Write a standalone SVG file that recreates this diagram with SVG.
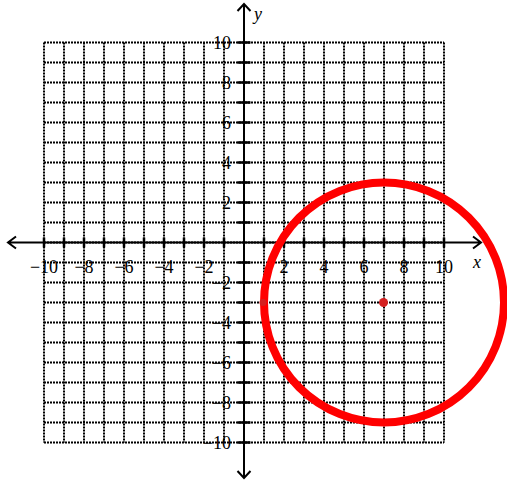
<svg xmlns="http://www.w3.org/2000/svg" width="507" height="480" viewBox="0 0 507 480">
<style>
.grid line{stroke:#000;stroke-width:2;stroke-dasharray:2 1}
.axis{stroke:#000;stroke-width:2;fill:none}
.tick{stroke:#000;stroke-width:2.5}
text{font-family:"Liberation Serif","Times New Roman",serif;font-size:18px;fill:#000}
.xl{text-anchor:middle}
.yl{text-anchor:end}
.var{font-style:italic}
</style>
<rect width="507" height="480" fill="#fff"/>
<g id="grid" class="grid">
<line x1="44" y1="42.5" x2="44" y2="442.5"/><line x1="64" y1="42.5" x2="64" y2="442.5"/><line x1="84" y1="42.5" x2="84" y2="442.5"/><line x1="104" y1="42.5" x2="104" y2="442.5"/><line x1="124" y1="42.5" x2="124" y2="442.5"/><line x1="144" y1="42.5" x2="144" y2="442.5"/><line x1="164" y1="42.5" x2="164" y2="442.5"/><line x1="184" y1="42.5" x2="184" y2="442.5"/><line x1="204" y1="42.5" x2="204" y2="442.5"/><line x1="224" y1="42.5" x2="224" y2="442.5"/><line x1="244" y1="42.5" x2="244" y2="442.5"/><line x1="264" y1="42.5" x2="264" y2="442.5"/><line x1="284" y1="42.5" x2="284" y2="442.5"/><line x1="304" y1="42.5" x2="304" y2="442.5"/><line x1="324" y1="42.5" x2="324" y2="442.5"/><line x1="344" y1="42.5" x2="344" y2="442.5"/><line x1="364" y1="42.5" x2="364" y2="442.5"/><line x1="384" y1="42.5" x2="384" y2="442.5"/><line x1="404" y1="42.5" x2="404" y2="442.5"/><line x1="424" y1="42.5" x2="424" y2="442.5"/><line x1="444" y1="42.5" x2="444" y2="442.5"/>
<line x1="44" y1="42.5" x2="444" y2="42.5"/><line x1="44" y1="62.5" x2="444" y2="62.5"/><line x1="44" y1="82.5" x2="444" y2="82.5"/><line x1="44" y1="102.5" x2="444" y2="102.5"/><line x1="44" y1="122.5" x2="444" y2="122.5"/><line x1="44" y1="142.5" x2="444" y2="142.5"/><line x1="44" y1="162.5" x2="444" y2="162.5"/><line x1="44" y1="182.5" x2="444" y2="182.5"/><line x1="44" y1="202.5" x2="444" y2="202.5"/><line x1="44" y1="222.5" x2="444" y2="222.5"/><line x1="44" y1="242.5" x2="444" y2="242.5"/><line x1="44" y1="262.5" x2="444" y2="262.5"/><line x1="44" y1="282.5" x2="444" y2="282.5"/><line x1="44" y1="302.5" x2="444" y2="302.5"/><line x1="44" y1="322.5" x2="444" y2="322.5"/><line x1="44" y1="342.5" x2="444" y2="342.5"/><line x1="44" y1="362.5" x2="444" y2="362.5"/><line x1="44" y1="382.5" x2="444" y2="382.5"/><line x1="44" y1="402.5" x2="444" y2="402.5"/><line x1="44" y1="422.5" x2="444" y2="422.5"/><line x1="44" y1="442.5" x2="444" y2="442.5"/>
</g>
<g id="axes">
<path class="axis" d="M8 242.5H481M16 236.5L8 242.5L16 248.5M473 236.5L481 242.5L473 248.5"/>
<path class="axis" d="M244 4V478M237.5 11L244 4L250.5 11M237.5 471L244 478L250.5 471"/>
<path class="tick" d="M44 237.5v10M64 237.5v10M84 237.5v10M104 237.5v10M124 237.5v10M144 237.5v10M164 237.5v10M184 237.5v10M204 237.5v10M224 237.5v10M264 237.5v10M284 237.5v10M304 237.5v10M324 237.5v10M344 237.5v10M364 237.5v10M384 237.5v10M404 237.5v10M424 237.5v10M444 237.5v10"/>
<path class="tick" d="M237.5 42.5h13M237.5 62.5h13M237.5 82.5h13M237.5 102.5h13M237.5 122.5h13M237.5 142.5h13M237.5 162.5h13M237.5 182.5h13M237.5 202.5h13M237.5 222.5h13M237.5 262.5h13M237.5 282.5h13M237.5 302.5h13M237.5 322.5h13M237.5 342.5h13M237.5 362.5h13M237.5 382.5h13M237.5 402.5h13M237.5 422.5h13M237.5 442.5h13"/>
</g>
<g id="labels">
<text class="xl" x="44" y="273">−10</text><text class="xl" x="84" y="273">−8</text><text class="xl" x="124" y="273">−6</text><text class="xl" x="164" y="273">−4</text><text class="xl" x="204" y="273">−2</text>
<text class="xl" x="284" y="273">2</text><text class="xl" x="324" y="273">4</text><text class="xl" x="364" y="273">6</text><text class="xl" x="404" y="273">8</text><text class="xl" x="444" y="273">10</text>
<text class="yl" x="231" y="48.5">10</text><text class="yl" x="231" y="88.5">8</text><text class="yl" x="231" y="128.5">6</text><text class="yl" x="231" y="168.5">4</text><text class="yl" x="231" y="208.5">2</text>
<text class="yl" x="231" y="288.5">−2</text><text class="yl" x="231" y="328.5">−4</text><text class="yl" x="231" y="368.5">−6</text><text class="yl" x="231" y="408.5">−8</text><text class="yl" x="231" y="448.5">−10</text>
<text class="var" x="473" y="268">x</text>
<text class="var" x="254" y="20">y</text>
</g>
<g id="circle">
<circle cx="384" cy="302.5" r="120" fill="none" stroke="#ff0000" stroke-width="8"/>
<circle cx="383.5" cy="302.5" r="4.5" fill="#d42020"/>
<circle cx="263" cy="302.5" r="3.5" fill="#d42020"/>
</g>
</svg>
